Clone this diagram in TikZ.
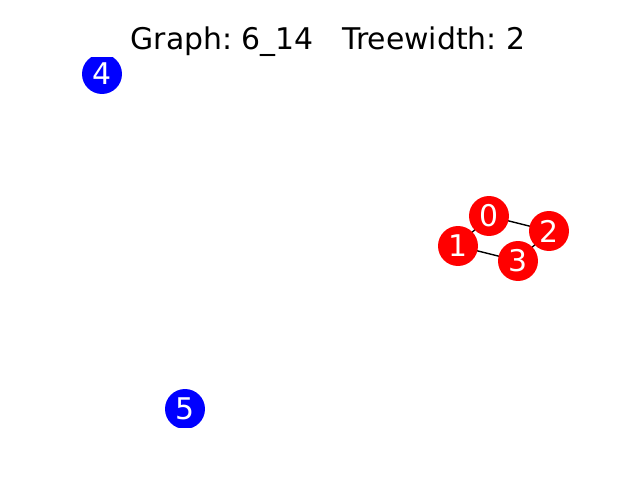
\documentclass[tikz,border=0pt]{standalone}
\usepackage{fontspec}
\setmainfont{DejaVu Sans}
\frenchspacing
\tikzstyle{red vertex} = [circle, fill=red, text=white, inner sep=0pt,
    minimum size=0.8cm, font=\fontsize{17}{20}\selectfont]
\tikzstyle{blue vertex} = [red vertex, fill=blue]
\tikzstyle{edge} = [draw, black, line width=0.8pt]

\begin{document}
\begin{tikzpicture}[x=0.02cm, y=-0.02cm]
    \useasboundingbox (0,0) rectangle (640,480);
    \node [anchor=base, inner sep=0pt, font=\fontsize{17}{20}\selectfont] (title) at (328,49.3) {Graph: 6\_14~~~Treewidth: 2};
    \begin{scope}
    \clip (80,57.6) rectangle (576,427.2);
    \draw [edge] (489,216) -- (549,231);
    \draw [edge] (489,216) -- (458,246);
    \draw [edge] (458,246) -- (518,261);
    \draw [edge] (549,231) -- (518,261);
    \node [red vertex] (n0) at (489,216) {0};
    \node [red vertex] (n1) at (458,246) {1};
    \node [red vertex] (n2) at (549,231) {2};
    \node [red vertex] (n3) at (518,261) {3};
    \node [blue vertex] (n4) at (102,74) {4};
    \node [blue vertex] (n5) at (185,409) {5};
    \end{scope}
\end{tikzpicture}
\end{document}
